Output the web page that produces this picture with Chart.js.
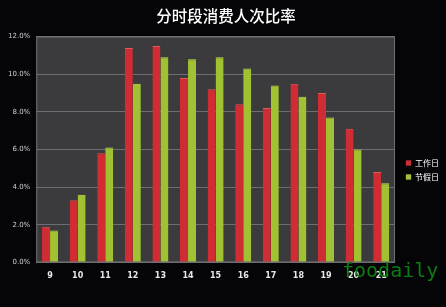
<!DOCTYPE html>
<html>
<head>
<meta charset="utf-8">
<script src="https://cdn.jsdelivr.net/npm/chart.js@4"></script>
<style>
	html, body { margin: 0; padding: 0; background: #050407; }
	#wrap { width: 446px; height: 307px; }
</style>
</head>
<body>
<div id="wrap"><canvas id="Rate"></canvas></div>
<script>
const hours = ["9", "10", "11", "12", "13", "14", "15", "16", "17", "18", "19", "20", "21"];
const workday = [1.9, 3.3, 5.8, 11.4, 11.5, 9.8, 9.2, 8.4, 8.2, 9.5, 9.0, 7.1, 4.8];
const holiday = [1.7, 3.6, 6.1, 9.5, 10.9, 10.8, 10.9, 10.3, 9.4, 8.8, 7.7, 6.0, 4.2];
const y_ticks = [0, 2, 4, 6, 8, 10, 12];

// plot background, frame, watermark; legend + title nudged a bit
const plot_bg = {
	id: "plotBg",
	afterLayout(chart) {
		const lg = chart.legend;
		lg.left += 5;
		lg.right += 5;
		lg.top += 27;
		lg.bottom += 27;
		if (chart.titleBlock) {
			chart.titleBlock.left += 3;
			chart.titleBlock.right += 3;
		}
	},
	beforeDraw(chart) {
		const { ctx, chartArea: a } = chart;
		ctx.save();
		ctx.fillStyle = "#3b3b3d";
		ctx.fillRect(a.left, a.top, a.right - a.left, a.bottom - a.top);
		ctx.restore();
	},
	afterDraw(chart) {
		const ctx = chart.ctx;
		ctx.save();
		ctx.strokeStyle = "#6e6e70";
		ctx.lineWidth = 1;
		const a = chart.chartArea;
		ctx.strokeRect(a.left + 0.5, a.top + 0.5, a.right - a.left - 1, a.bottom - a.top - 1);
		ctx.fillStyle = "#0b7d12";
		ctx.font = "20px 'DejaVu Sans Mono'";
		ctx.textBaseline = "alphabetic";
		ctx.fillText("foodaily", 342, 277);
		ctx.restore();
	},
};

new Chart(document.getElementById("Rate").getContext("2d"), {
	type: "bar",
	data: {
		labels: hours,
		datasets: [
			{
				label: "工作日",
				data: workday,
				backgroundColor: "#cf2d33",
				borderColor: "#e0575c",
				borderWidth: { top: 1, left: 0, right: 0, bottom: 0 },
			},
			{
				label: "节假日",
				data: holiday,
				backgroundColor: "#a0c232",
				borderColor: "#c9e05a",
				borderWidth: { top: 1, left: 0, right: 0, bottom: 0 },
			},
		],
	},
	options: {
		responsive: true,
		maintainAspectRatio: false,
		animation: false,
		layout: { padding: { left: 2, right: 2, top: 4, bottom: 25 } },
		datasets: { bar: { categoryPercentage: 0.58, barPercentage: 1.0 } },
		scales: {
			x: {
				grid: { display: false },
				border: { display: false },
				ticks: { color: "#e8e8e8", font: { size: 8, weight: "bold", family: "'DejaVu Sans'" }, padding: 1 },
			},
			y: {
				min: 0,
				max: 12,
				afterBuildTicks(axis) {
					axis.ticks = y_ticks.map((v) => ({ value: v }));
				},
				grid: { color: "#6e6e70", drawTicks: false },
				border: { display: false },
				ticks: {
					color: "#d0d0d0",
					font: { size: 7, family: "'DejaVu Sans'" },
					padding: 6,
					callback: (v) => v.toFixed(1) + "%",
				},
			},
		},
		plugins: {
			title: {
				display: true,
				text: "分时段消费人次比率",
				color: "#ffffff",
				font: { size: 15.5, family: "'Noto Sans CJK SC'", weight: 500 },
				padding: { top: 3, bottom: 11 },
			},
			legend: {
				position: "right",
				labels: {
					color: "#ffffff",
					boxWidth: 5,
					boxHeight: 5,
					padding: 6,
					font: { size: 8, family: "'Noto Sans CJK SC'" },
				},
			},
			tooltip: { enabled: false },
		},
	},
	plugins: [plot_bg],
});
</script>
</body>
</html>
